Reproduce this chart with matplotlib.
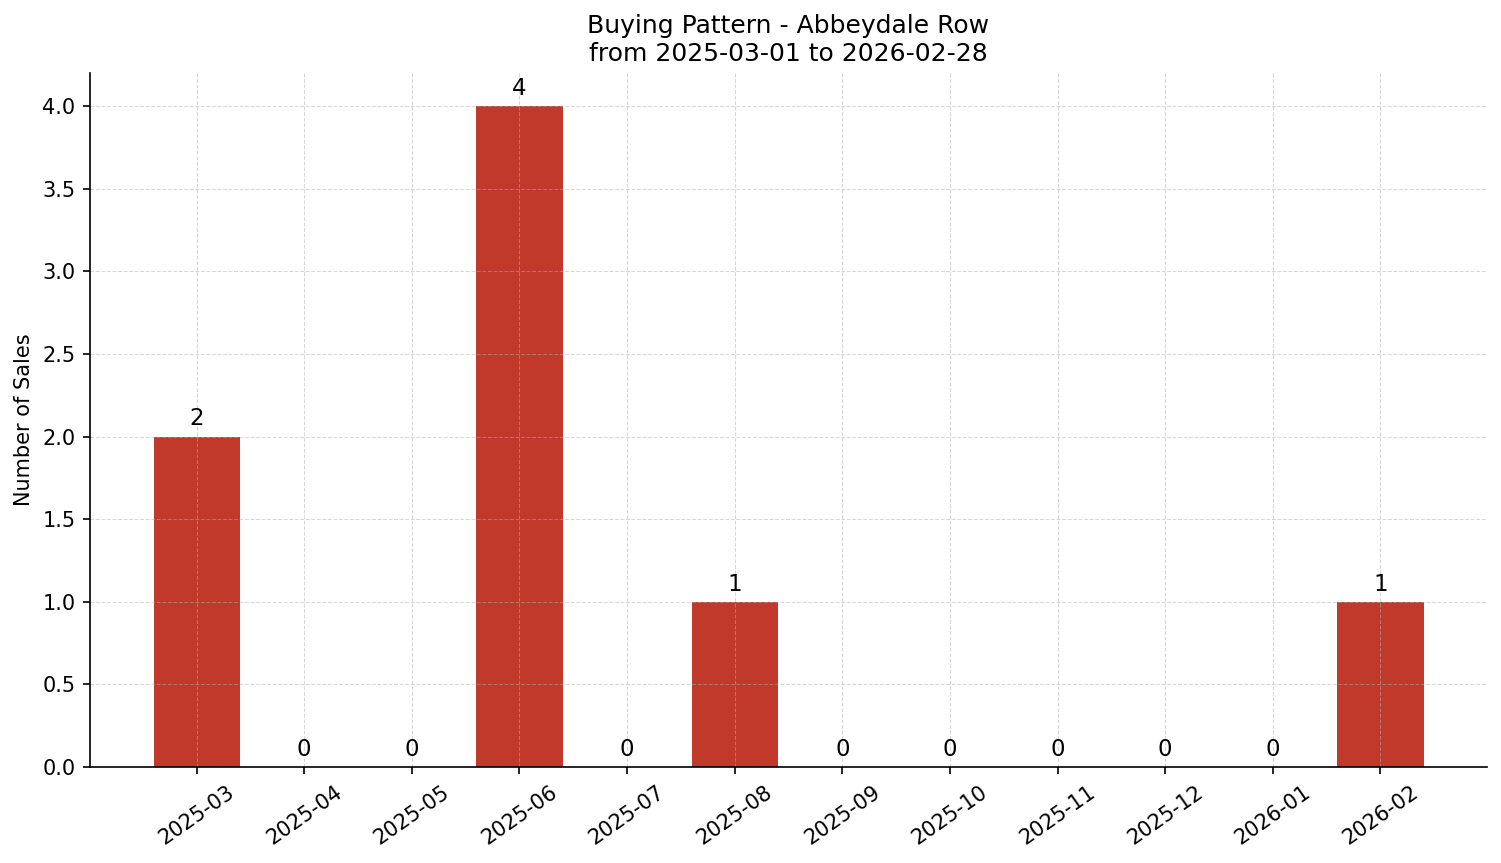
import numpy as np
import matplotlib.pyplot as plt

months = ['2025-03', '2025-04', '2025-05', '2025-06', '2025-07', '2025-08',
          '2025-09', '2025-10', '2025-11', '2025-12', '2026-01', '2026-02']
sales = [2, 0, 0, 4, 0, 1, 0, 0, 0, 0, 0, 1]

fig, ax = plt.subplots(figsize=(1501 / 150, 863 / 150), dpi=150)
x = np.arange(len(months))
bars = ax.bar(x, sales, width=0.8, color='#c0392b')

# value labels on top
for xi, v in zip(x, sales):
    ax.annotate(str(v), (xi, v), xytext=(0, 3), textcoords='offset points',
                ha='center', va='bottom', fontsize=11)

ax.set_xticks(x)
ax.set_xticklabels(months, rotation=35)
ax.set_ylabel('Number of Sales')
ax.set_title('Buying Pattern - Abbeydale Row\nfrom 2025-03-01 to 2026-02-28', fontsize=12)
ax.grid(True, linestyle='--', alpha=0.5, linewidth=0.5)
ax.spines['top'].set_visible(False)
ax.spines['right'].set_visible(False)

fig.subplots_adjust(left=0.060, right=0.9907, top=0.9154, bottom=0.1112)
plt.savefig('out.png', dpi=150)
